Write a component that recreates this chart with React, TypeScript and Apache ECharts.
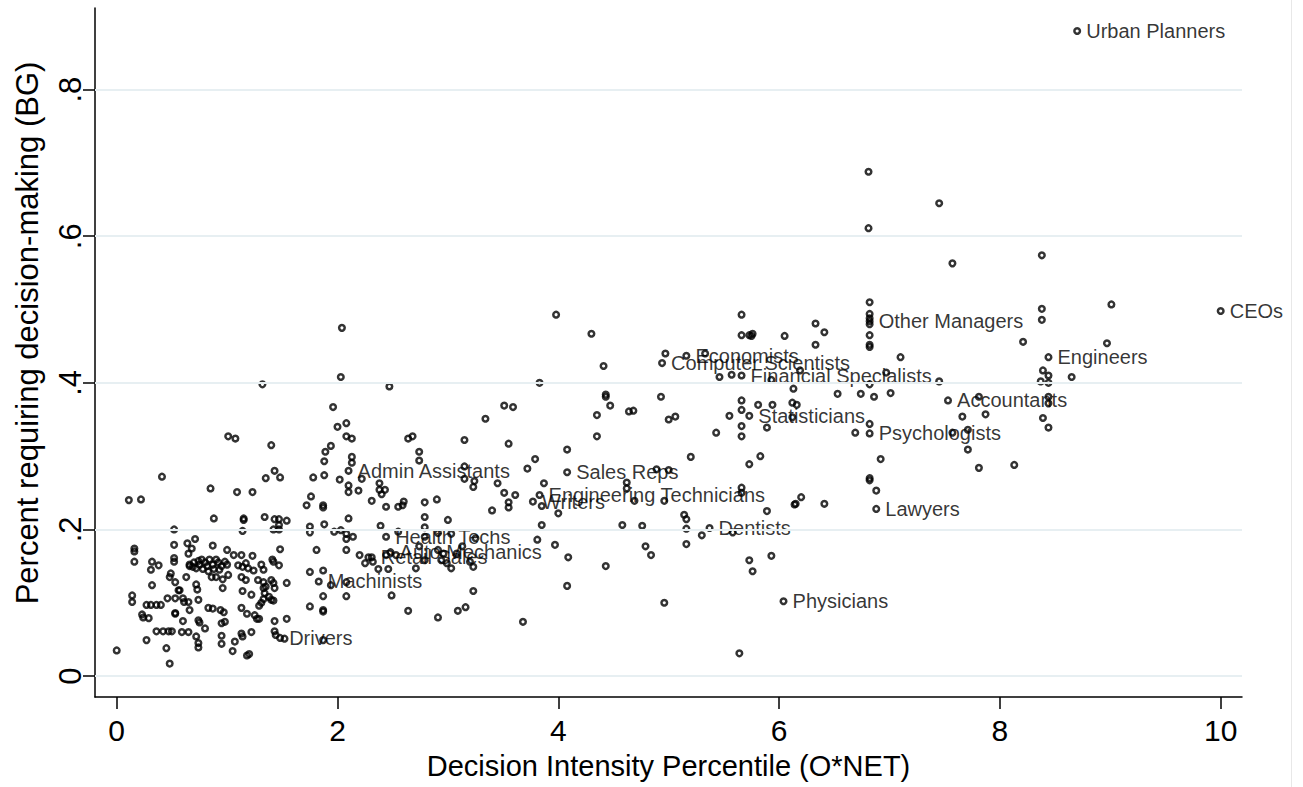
import React, { useEffect, useRef } from "react";
import * as echarts from "echarts";

const xTicks = [0, 2, 4, 6, 8, 10];
const yTicks = [0, 0.2, 0.4, 0.6, 0.8];
const xTitle = "Decision Intensity Percentile (O*NET)";
const yTitle = "Percent requiring decision-making (BG)";

const labeledNames = [
  "Urban Planners", "CEOs", "Other Managers", "Engineers", "Economists",
  "Computer Scientists", "Financial Specialists", "Accountants", "Statisticians",
  "Psychologists", "Lawyers", "Dentists", "Physicians", "Sales Reps",
  "Engineering Technicians", "Writers", "Admin Assistants", "Health Techs",
  "Auto Mechanics", "Retail Sales", "Machinists", "Drivers",
];
const labeledPoints: number[][] = [
  [8.70, 0.880], [10.0, 0.498], [6.82, 0.484], [8.44, 0.435], [5.16, 0.437],
  [4.94, 0.427], [5.66, 0.410], [7.53, 0.376], [5.73, 0.355],
  [6.82, 0.331], [6.88, 0.228], [5.37, 0.202], [6.04, 0.102], [4.08, 0.278],
  [3.83, 0.247], [3.77, 0.238], [2.10, 0.280], [2.44, 0.190],
  [2.48, 0.169], [2.31, 0.162], [1.83, 0.129], [1.48, 0.052],
];

const lowIntensity: number[][] = [
  [1.01, .327], [1.075, .324], [1.40, .315], [0.41, .272], [0.11, .240], [0.22, .241], [0.85, .256],
  [1.09, .251], [1.23, .251], [1.35, .270], [1.43, .280], [1.48, .271], [0.88, .215], [1.15, .215],
  [1.15, .213], [1.34, .217], [1.43, .214], [1.47, .214], [1.54, .212], [1.14, .198], [1.42, .200],
  [1.47, .200], [1.47, .206], [0.52, .200], [1.32, .398],
  [0.16, .174], [0.16, .170], [0.16, .156], [0.32, .156], [0.38, .151], [0.31, .145], [0.32, .124],
  [0.52, .179], [0.52, .161], [0.52, .156], [0.64, .181], [0.71, .187], [0.68, .174], [0.65, .167],
  [0.66, .152], [0.70, .155], [0.74, .157], [0.77, .159], [0.80, .155], [0.84, .159], [0.90, .159],
  [0.92, .155], [0.87, .152], [0.82, .150], [0.78, .146], [0.72, .147], [0.69, .149], [0.66, .150],
  [0.95, .150], [0.98, .156], [1.00, .152], [0.88, .146], [0.93, .145], [0.75, .152], [0.83, .143],
  [0.87, .178], [1.00, .172], [1.06, .165], [1.13, .165], [1.23, .164], [1.10, .151], [1.14, .149],
  [1.17, .154], [1.19, .147], [1.24, .144], [1.31, .152], [1.33, .145], [1.41, .159], [1.42, .156],
  [1.47, .151], [1.48, .173],
  [0.49, .140], [0.48, .135], [0.53, .128], [0.63, .135], [0.57, .117], [0.86, .135], [0.90, .135],
  [0.96, .132], [0.96, .120], [1.01, .138], [0.72, .125], [0.73, .118], [1.13, .135], [1.17, .131],
  [1.14, .116], [1.22, .111],
  [1.28, .131], [1.33, .128], [1.35, .122], [1.40, .131], [1.42, .127], [1.43, .120], [1.33, .120],
  [1.34, .113], [1.38, .108], [1.40, .104], [1.42, .103], [1.33, .105], [1.31, .100], [1.29, .096],
  [1.54, .127],
  [0.14, .110], [0.14, .101], [0.27, .097], [0.31, .097], [0.36, .097], [0.40, .097], [0.23, .084],
  [0.24, .080], [0.29, .079], [0.46, .106], [0.53, .106], [0.60, .106], [0.61, .101], [0.65, .101],
  [0.56, .117], [0.74, .104], [0.66, .090], [0.53, .086], [0.53, .085],
  [0.83, .093], [0.87, .092], [0.94, .090], [0.97, .087], [1.13, .093], [1.18, .085], [1.25, .083],
  [1.29, .078],
  [0.60, .075], [0.74, .076], [0.75, .073], [0.80, .065], [0.65, .060], [0.59, .060], [0.50, .061],
  [0.36, .061], [0.42, .061], [0.47, .061], [0.27, .049], [0.45, .038], [0.48, .017], [0.00, .035],
  [0.72, .054], [0.74, .045], [0.74, .039], [0.95, .072], [0.98, .074], [0.95, .055], [0.95, .044],
  [1.07, .047], [1.05, .034], [1.13, .058], [1.14, .054], [1.18, .028], [1.22, .060], [1.27, .078],
  [1.43, .075], [1.54, .078], [1.43, .061], [1.44, .056], [1.52, .051], [1.20, .030],
];

const midIntensity: number[][] = [
  [2.00, .340], [2.08, .345], [2.08, .327], [2.13, .324], [1.94, .314], [1.89, .306], [1.88, .293],
  [2.13, .299], [2.13, .291], [2.64, .324], [2.68, .327], [2.74, .306], [2.74, .294], [1.78, .271],
  [1.88, .274], [2.02, .268], [2.10, .260], [2.19, .253], [2.22, .269], [2.10, .251], [2.38, .263],
  [2.38, .254], [2.43, .254], [2.40, .248], [1.76, .245], [1.72, .233], [1.87, .233], [1.87, .230],
  [2.31, .239], [2.44, .231], [2.55, .231], [2.59, .233], [2.60, .238], [2.79, .237], [2.90, .241],
  [2.79, .217], [1.75, .204], [1.75, .196], [1.88, .207], [2.10, .215], [1.97, .197], [2.03, .199],
  [2.08, .194], [2.08, .187], [2.14, .190], [2.39, .205], [2.55, .197], [2.79, .203], [1.75, .095],
  [1.87, .090], [1.87, .088], [1.87, .109], [2.08, .109], [1.75, .142], [1.94, .124], [1.87, .144],
  [2.08, .128], [2.49, .110], [2.64, .089], [2.91, .080], [2.37, .146], [2.46, .146], [2.28, .162],
  [2.32, .156], [2.25, .154], [2.20, .165], [2.44, .165], [2.53, .165], [2.74, .177], [2.71, .147],
  [2.79, .158],
  [3.40, .226], [3.00, .213], [2.79, .190], [2.91, .195], [1.81, .172], [2.08, .172], [2.91, .172],
  [2.96, .167], [2.94, .158], [2.99, .154], [3.03, .147], [3.08, .167], [3.23, .149], [3.23, .116],
  [3.09, .089], [3.16, .094], [1.87, .049],
  [2.04, .475], [2.03, .408], [2.47, .395], [1.96, .367],
  [3.15, .322], [3.34, .351], [3.51, .369], [3.59, .367], [3.55, .317], [3.15, .286], [3.15, .269],
  [3.24, .266], [3.23, .258], [3.45, .263], [3.51, .250], [3.61, .247], [3.55, .237], [3.55, .230],
  [3.03, .194], [3.13, .177], [3.20, .156], [3.25, .188],
];

const upperIntensity: number[][] = [
  [3.98, .493], [4.30, .467], [4.41, .423], [3.83, .400], [4.43, .384], [4.43, .381], [4.47, .369],
  [4.35, .356], [4.35, .327], [4.64, .361], [4.68, .362], [4.93, .381], [5.00, .350], [5.06, .354],
  [4.97, .440], [5.33, .440], [5.66, .493], [5.66, .465], [5.73, .465], [5.76, .467], [5.75, .464],
  [6.05, .464], [5.46, .408], [5.57, .411], [5.93, .404], [6.13, .392], [6.12, .373], [6.16, .370],
  [5.66, .376], [5.66, .363], [5.55, .355], [5.81, .370], [5.94, .370], [5.66, .341], [5.66, .327],
  [5.43, .332], [5.89, .339], [6.12, .353], [5.20, .299], [5.73, .289], [5.83, .300], [4.89, .282],
  [5.00, .281], [4.08, .309], [3.79, .296], [3.72, .283], [3.87, .263], [3.85, .232], [3.85, .206],
  [3.81, .186], [3.97, .179], [4.00, .222], [4.62, .264], [4.62, .256], [4.69, .239], [4.96, .239],
  [4.76, .205], [4.79, .177], [5.14, .220], [5.16, .214], [5.16, .201], [5.16, .180], [5.30, .192],
  [5.58, .196], [5.66, .257], [5.89, .225], [6.14, .234], [6.33, .481], [6.41, .469], [6.33, .452],
  [6.19, .417], [4.84, .165], [5.73, .158], [5.76, .143], [5.93, .164], [4.96, .100],
  [5.64, .031], [6.15, .235], [6.20, .244], [6.41, .235], [5.66, .250], [3.68, .074], [4.09, .162],
  [4.08, .123], [4.43, .150], [4.58, .206],
];

const highIntensity: number[][] = [
  [7.57, .563], [8.38, .574], [9.01, .507], [6.82, .510], [6.82, .494], [6.82, .488], [6.82, .480],
  [6.82, .465], [6.82, .452], [6.82, .449], [7.10, .435], [8.21, .456], [8.38, .501], [8.38, .486],
  [8.97, .454], [8.39, .417], [8.44, .410], [8.37, .402], [8.44, .400], [8.65, .408], [6.97, .414],
  [6.82, .398], [7.45, .402], [6.53, .385], [6.74, .385], [6.86, .381], [7.01, .386], [7.81, .381],
  [8.44, .381], [8.44, .372], [7.66, .354], [7.87, .357], [8.39, .352], [8.44, .339], [6.82, .344],
  [6.69, .332], [7.57, .332], [7.71, .336], [7.71, .309], [7.81, .284], [8.13, .288], [6.92, .296],
  [6.82, .270], [6.82, .267], [6.88, .253], [6.81, .688], [7.45, .645], [6.81, .611],
];

const FONT = "'Liberation Sans', Arial, Helvetica, sans-serif";
const X_MIN = -0.1966;
const X_MAX = 10.193;
const Y_MIN = -0.0286;
const Y_MAX = 0.9114;

const markerStyle = {
  color: "rgba(0,0,0,0)",
  borderColor: "#000",
  borderWidth: 2.5,
};

export default function App() {
  const ref = useRef<HTMLDivElement>(null);
  useEffect(() => {
    const chart = echarts.init(ref.current as HTMLDivElement, null, { renderer: "svg" });
    const pointSeries = [lowIntensity, midIntensity, upperIntensity, highIntensity].map((d) => ({
      type: "scatter",
      data: d,
      symbol: "circle",
      symbolSize: 5.6,
      itemStyle: markerStyle,
      silent: true,
      z: 3,
    }));
    chart.setOption({
      animation: false,
      backgroundColor: "#fff",
      textStyle: { fontFamily: FONT },
      grid: { left: 95, right: 61, top: 8, bottom: 90, containLabel: false },
      xAxis: {
        type: "value",
        min: X_MIN,
        max: X_MAX,
        axisLine: { show: true, onZero: false, lineStyle: { color: "#000", width: 1.5 } },
        axisTick: { show: true, customValues: xTicks, length: 12, lineStyle: { color: "#000", width: 1.5 } },
        axisLabel: { customValues: xTicks, fontSize: 30, color: "#000", margin: 18, fontFamily: FONT },
        splitLine: { show: false },
        name: xTitle,
        nameLocation: "middle",
        nameGap: 54,
        nameTextStyle: { fontSize: 29, color: "#000", fontFamily: FONT },
      },
      yAxis: {
        type: "value",
        min: Y_MIN,
        max: Y_MAX,
        axisLine: { show: true, onZero: false, lineStyle: { color: "#000", width: 1.5 } },
        axisTick: { show: true, customValues: yTicks, length: 12, lineStyle: { color: "#000", width: 1.5 } },
        axisLabel: {
          customValues: yTicks,
          rotate: 90,
          fontSize: 31,
          color: "#000",
          margin: 9,
          fontFamily: FONT,
          formatter: (v: number) => (v === 0 ? "0" : String(v).replace(/^0/, "")),
        },
        splitLine: { show: false },
      },
      graphic: [
        {
          type: "text",
          x: 27,
          y: 333,
          rotation: Math.PI / 2,
          style: {
            text: yTitle,
            fontSize: 31,
            fontFamily: FONT,
            fill: "#000",
            align: "center",
            verticalAlign: "middle",
          },
        },
        {
          type: "line",
          shape: { x1: 1291.5, y1: 0, x2: 1291.5, y2: 787 },
          style: { stroke: "#e8e8e8", lineWidth: 1 },
        },
      ],
      series: [
        {
          type: "scatter",
          data: [],
          z: 1,
          silent: true,
          markLine: {
            silent: true,
            symbol: "none",
            label: { show: false },
            lineStyle: { color: "#e7eff2", width: 2, type: "solid" },
            data: yTicks.map((v) => ({ yAxis: v })),
          },
        },
        ...pointSeries,
        {
          type: "scatter",
          data: labeledNames.map((n, i) => ({ name: n, value: labeledPoints[i] })),
          symbol: "circle",
          symbolSize: 5.6,
          itemStyle: markerStyle,
          silent: true,
          z: 4,
          label: {
            show: true,
            position: "right",
            distance: 5,
            formatter: "{b}",
            fontSize: 20,
            color: "#000",
            fontFamily: FONT,
          },
        },
      ],
    });
    return () => chart.dispose();
  }, []);
  return (
    <div
      ref={ref}
      style={{ width: 1303, height: 787, position: "absolute", left: 0, top: 0, background: "#fff" }}
    />
  );
}
